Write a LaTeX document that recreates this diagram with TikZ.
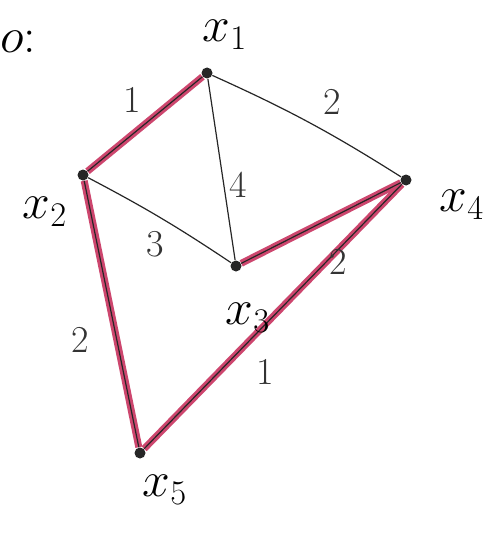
\documentclass[tikz,border=0pt]{standalone}
\usepackage{xcolor}
\definecolor{hl}{RGB}{205,70,110}
\begin{document}
\begin{tikzpicture}[x=0.5pt,y=-0.5pt,
  vert/.style={circle,fill=black!85,inner sep=0pt,minimum size=5.5pt},
  lbl/.style={font=\fontsize{24}{28}\selectfont},
  wlbl/.style={font=\fontsize{19}{22}\selectfont, text=black!80},
  edge/.style={line width=0.6pt, black!85},
  redge/.style={line width=3.5pt, hl},
]
\useasboundingbox (0,0) rectangle (497,535);
\node[lbl, anchor=west, inner sep=0pt] (o) at (0,42) {$o{:}$};
\node[vert] (x1) at (207,73) {};
\node[vert] (x2) at (83,175) {};
\node[vert] (x3) at (236,266) {};
\node[vert] (x4) at (406,180) {};
\node[vert] (x5) at (140,453) {};
% highlighted edges
\draw[redge] (x1) -- (x2);
\draw[redge] (x3) -- (x4);
\draw[redge] (x4) -- (x5);
\draw[redge] (x2) -- (x5);
% all edges
\draw[edge] (x1) -- (x2);
\draw[edge] (x1) to[bend left=4] (x4);
\draw[edge] (x1) -- (x3);
\draw[edge] (x2) to[bend left=3] (x3);
\draw[edge] (x3) -- (x4);
\draw[edge] (x4) -- (x5);
\draw[edge] (x2) -- (x5);
% vertex labels
\node[lbl] (l1) at (225,35) {$x_1$};
\node[lbl] (l2) at (45,212) {$x_2$};
\node[lbl] (l3) at (248,318) {$x_3$};
\node[lbl] (l4) at (462,205) {$x_4$};
\node[lbl] (l5) at (165,490) {$x_5$};
% weights
\node[wlbl] (w12) at (132,100) {1};
\node[wlbl] (w14) at (332,102) {2};
\node[wlbl] (w13) at (238,185) {4};
\node[wlbl] (w23) at (155,244) {3};
\node[wlbl] (w34) at (338,262) {2};
\node[wlbl] (w25) at (80,340) {2};
\node[wlbl] (w45) at (265,372) {1};
\end{tikzpicture}
\end{document}
